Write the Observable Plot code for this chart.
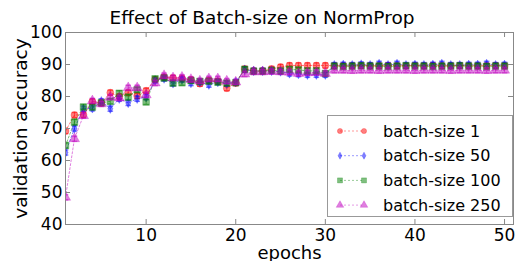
<!DOCTYPE html>
<html><head><meta charset="utf-8">
<script src="https://cdn.jsdelivr.net/npm/d3@7"></script>
<script src="https://cdn.jsdelivr.net/npm/@observablehq/plot@0.6"></script>
<style>
body{margin:0;background:#fff;}
#wrap{position:relative;width:516px;height:261px;font-family:"DejaVu Sans",sans-serif;}
#title{position:absolute;left:62px;width:400px;top:7px;text-align:center;font-size:18.5px;line-height:22px;color:#000;z-index:2;}
#legend{position:absolute;left:327px;top:115px;width:186px;height:102px;border:1px solid #999;box-sizing:border-box;background:#fff;z-index:2;}
</style>
</head><body>
<div id="wrap"><div id="title">Effect of Batch-size on NormProp</div><div id="legend"></div></div>
<script>
const epochs = d3.range(1, 51);
const xTicks = [10, 20, 30, 40, 50];
const yTicks = [40, 50, 60, 70, 80, 90, 100];
const names = ["batch-size 1", "batch-size 50", "batch-size 100", "batch-size 250"];
const bs1 = [69.2,74.2,74.3,78.4,78.0,81.2,80.0,81.2,80.2,81.8,
 85.3,86.0,85.8,85.6,85.2,84.0,85.0,84.8,82.6,84.2,
 88.6,88.0,88.0,88.6,89.2,89.7,89.7,89.7,89.7,89.7,
 89.6,89.6,89.6,89.7,89.6,89.6,89.7,89.6,89.6,89.7,
 89.6,89.7,89.6,89.6,89.7,89.6,89.6,89.6,89.7,89.6];
const bs50 = [62.5,70.0,76.2,76.3,78.5,76.2,79.3,78.0,79.3,79.8,
 85.0,85.6,84.1,85.3,84.2,84.5,83.7,84.5,84.0,84.5,
 88.4,88.0,88.0,88.0,87.8,87.2,87.0,86.8,86.8,86.8,
 89.8,89.9,89.8,90.0,89.8,90.2,89.8,90.2,89.8,89.9,
 89.8,89.9,90.2,89.8,89.8,89.9,89.9,90.2,89.8,89.9];
const bs100 = [64.7,72.0,76.7,76.7,78.0,78.5,81.0,79.8,82.1,78.3,
 85.5,85.8,84.2,84.3,85.0,84.7,84.8,84.5,84.2,84.3,
 88.5,87.9,87.9,88.2,88.0,88.5,88.3,88.0,88.0,87.2,
 89.5,89.4,89.5,89.6,89.5,89.5,89.4,89.5,89.6,89.5,
 89.5,89.4,89.5,89.5,89.6,89.5,89.5,89.4,89.5,89.5];
const bs250 = [48.5,66.8,74.0,78.6,77.7,79.8,79.5,82.7,82.7,80.5,
 84.2,86.5,85.8,86.0,85.3,84.8,85.5,85.5,84.8,84.5,
 87.0,87.7,87.7,87.8,87.7,87.6,87.2,87.4,87.5,87.2,
 88.2,88.2,88.1,88.2,88.2,88.1,88.2,88.2,88.2,88.1,
 88.2,88.2,88.2,88.1,88.2,88.2,88.2,88.1,88.2,88.2];
const errHalf = 0.8;

const thinDiamond = {draw(ctx, size){const h=Math.sqrt(size/Math.PI)*1.35, w=h*0.55; ctx.moveTo(0,-h); ctx.lineTo(w,0); ctx.lineTo(0,h); ctx.lineTo(-w,0); ctx.closePath();}};
const cap = {draw(ctx, size){const w=Math.sqrt(size/Math.PI); ctx.moveTo(-w,0); ctx.lineTo(w,0);}};

const series = [
  {name: names[0], values: bs1, color: "#ff0000", symbol: "circle", r: 3.5},
  {name: names[1], values: bs50, color: "#0000ff", symbol: thinDiamond, r: 3.5},
  {name: names[2], values: bs100, color: "#008000", symbol: "square", r: 3.8},
  {name: names[3], values: bs250, color: "#bf00bf", symbol: "triangle", r: 3.8}
];

const marks = [];
for (const s of series) {
  const data = s.values.map((v, i) => ({epoch: epochs[i], acc: v}));
  marks.push(Plot.line(data, {x: "epoch", y: "acc", stroke: s.color, strokeOpacity: 0.5, strokeWidth: 1, strokeDasharray: "2,2", clip: true}));
}
for (const s of series) {
  const data = s.values.map((v, i) => ({epoch: epochs[i], acc: v}));
  marks.push(Plot.ruleX(data, {x: "epoch", y1: d => d.acc - errHalf, y2: d => d.acc + errHalf, stroke: s.color, strokeOpacity: 0.5, clip: true}));
  marks.push(Plot.dot(data, {x: "epoch", y: d => d.acc - errHalf, symbol: cap, r: 2.8, stroke: s.color, strokeOpacity: 0.5, fill: "none", clip: true}));
  marks.push(Plot.dot(data, {x: "epoch", y: d => d.acc + errHalf, symbol: cap, r: 2.8, stroke: s.color, strokeOpacity: 0.5, fill: "none", clip: true}));
  marks.push(Plot.dot(data, {x: "epoch", y: "acc", symbol: s.symbol, r: s.r, fill: s.color, fillOpacity: 0.5, stroke: s.color, strokeOpacity: 0.5, strokeWidth: 0.5, clip: true}));
}

const chart = Plot.plot({
  width: 516, height: 261,
  marginLeft: 65, marginRight: 3, marginTop: 32, marginBottom: 37,
  style: {fontFamily: "DejaVu Sans, sans-serif", background: "transparent", color: "#000"},
  x: {domain: [1, 51]},
  y: {domain: [40, 100]},
  marks: [
    ...marks,
    Plot.frame({stroke: "#888"}),
    Plot.tickX(xTicks, {x: d => d, insetTop: 187, stroke: "#888"}),
    Plot.tickX(xTicks, {x: d => d, insetBottom: 187, stroke: "#888"}),
    Plot.tickY(yTicks, {y: d => d, insetRight: 443, stroke: "#888"}),
    Plot.tickY(yTicks, {y: d => d, insetLeft: 443, stroke: "#888"}),
    Plot.axisX({ticks: xTicks, tickSize: 0, tickPadding: 4, fontSize: 17, label: null}),
    Plot.axisY({ticks: yTicks, tickSize: 0, tickPadding: 3, fontSize: 17, label: null}),
    Plot.axisX({ticks: [], tickSize: 0, fontSize: 18, label: "epochs", labelAnchor: "center", labelArrow: "none", labelOffset: 34}),
    Plot.axisY({ticks: [], tickSize: 0, fontSize: 18.5, label: "validation accuracy", labelAnchor: "center", labelArrow: "none", labelOffset: 52})
  ]
});
document.getElementById("wrap").prepend(chart);

// legend
const leg = d3.select("#legend").append("svg").attr("width", 184).attr("height", 100).style("display", "block");
series.forEach((s, i) => {
  const g = leg.append("g").attr("transform", `translate(0,${15 + i * 24.7})`);
  g.append("line").attr("x1", 12).attr("x2", 36).attr("stroke", s.color).attr("stroke-opacity", 0.4).attr("stroke-dasharray", "2,2");
  const sym = typeof s.symbol === "string" ? ({circle: d3.symbolCircle, square: d3.symbolSquare, triangle: d3.symbolTriangle})[s.symbol] : s.symbol;
  for (const x of [12, 36]) {
    g.append("path").attr("d", d3.symbol(sym, Math.PI * s.r * s.r * 0.55)()).attr("transform", `translate(${x},0)`)
      .attr("fill", s.color).attr("fill-opacity", 0.5).attr("stroke", s.color).attr("stroke-opacity", 0.5).attr("stroke-width", 0.5);
  }
  g.append("text").attr("x", 55).attr("y", 0).attr("dy", "0.35em").attr("font-size", 16).attr("font-family", "DejaVu Sans, sans-serif").text(s.name);
});
d3.select(chart).style("position", "absolute").style("left", 0).style("top", 0);
</script>
</body></html>
